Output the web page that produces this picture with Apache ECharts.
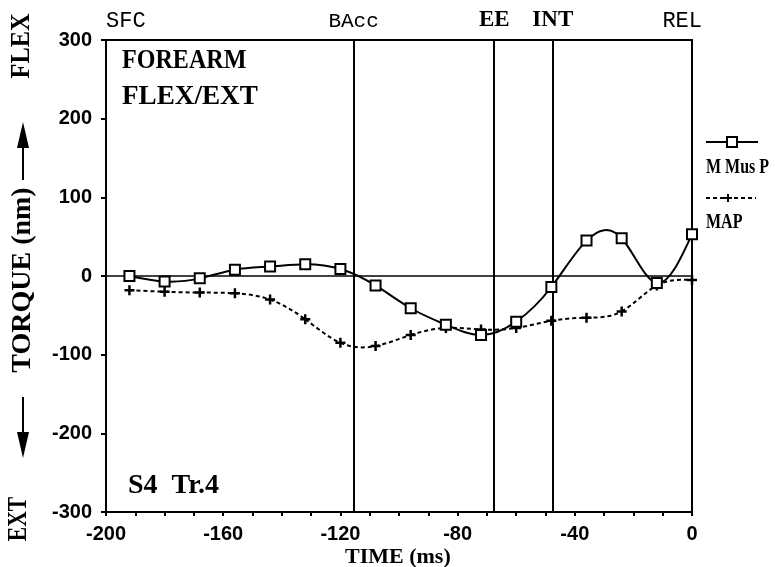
<!DOCTYPE html>
<html>
<head>
<meta charset="utf-8">
<script src="https://cdn.jsdelivr.net/npm/echarts@6/dist/echarts.min.js"></script>
<style>
html, body { margin: 0; padding: 0; background: #fff; }
#chart { width: 775px; height: 567px; }
</style>
</head>
<body>
<div id="chart"></div>
<script>
// forearm flex/ext torque, S4 Tr.4
var timeMs = [-192, -180, -168, -156, -144, -132, -120, -108, -96, -84, -72, -60, -48, -36, -24, -12, 0];
var mMusP = [0, -7, -3, 8, 12, 15, 9, -12, -41, -62, -75, -58, -14, 45, 48, -9, 53];
var mapVals = [-18, -20, -21, -22, -30, -55, -85, -89, -75, -66, -68, -66, -57, -53, -45, -12, -5];
var eventNames = ['SFC', 'BAcc', 'EE', 'INT', 'REL'];
var eventTimes = [-200, -115.5, -67.5, -47.5, 0];

var MONO = "'Liberation Mono', 'DejaVu Sans Mono', monospace";
var SERIF = "'Liberation Serif', serif";

var chart = echarts.init(document.getElementById('chart'));

// natural cubic spline slopes, the old plotting package drew curves like this
function splineSlopes(xs, ys) {
  var n = xs.length, h = [], i;
  for (i = 0; i < n - 1; i++) h.push(xs[i + 1] - xs[i]);
  var a = [], b = [], c = [], d = [];
  for (i = 0; i < n; i++) {
    if (i === 0 || i === n - 1) { a.push(0); b.push(1); c.push(0); d.push(0); continue; }
    a.push(h[i - 1]);
    b.push(2 * (h[i - 1] + h[i]));
    c.push(h[i]);
    d.push(6 * ((ys[i + 1] - ys[i]) / h[i] - (ys[i] - ys[i - 1]) / h[i - 1]));
  }
  for (i = 1; i < n; i++) {
    var w = a[i] / b[i - 1];
    b[i] -= w * c[i - 1];
    d[i] -= w * d[i - 1];
  }
  var M = new Array(n);
  M[n - 1] = d[n - 1] / b[n - 1];
  for (i = n - 2; i >= 0; i--) M[i] = (d[i] - c[i] * M[i + 1]) / b[i];
  var m = [];
  for (i = 0; i < n - 1; i++) m.push((ys[i + 1] - ys[i]) / h[i] - h[i] * (2 * M[i] + M[i + 1]) / 6);
  m.push((ys[n - 1] - ys[n - 2]) / h[n - 2] + h[n - 2] * (M[n - 2] + 2 * M[n - 1]) / 6);
  return m;
}

function curveSeries(name, vals, dash) {
  var slopes = splineSlopes(timeMs, vals);
  return {
    name: name,
    type: 'custom',
    data: timeMs.map(function (t, i) { return [t, vals[i]]; }),
    encode: { x: 0, y: 1 },
    z: 3,
    silent: true,
    renderItem: function (params, api) {
      var i = params.dataIndex;
      if (i >= timeMs.length - 1) return null;
      var x0 = timeMs[i], x1 = timeMs[i + 1], hh = (x1 - x0) / 3;
      var p0 = api.coord([x0, vals[i]]);
      var p1 = api.coord([x1, vals[i + 1]]);
      var c0 = api.coord([x0 + hh, vals[i] + slopes[i] * hh]);
      var c1 = api.coord([x1 - hh, vals[i + 1] - slopes[i + 1] * hh]);
      return {
        type: 'bezierCurve',
        shape: { x1: p0[0], y1: p0[1], x2: p1[0], y2: p1[1], cpx1: c0[0], cpy1: c0[1], cpx2: c1[0], cpy2: c1[1] },
        style: { stroke: '#000', lineWidth: 2, fill: null, lineDash: dash }
      };
    }
  };
}

// label look per event marker
var eventLabel = {
  SFC: { fontFamily: MONO, fontSize: 22, align: 'left' },
  BAcc: { fontFamily: MONO, fontSize: 21 },
  EE: { fontFamily: SERIF, fontWeight: 'bold', fontSize: 23 },
  INT: { fontFamily: SERIF, fontWeight: 'bold', fontSize: 23 },
  REL: { fontFamily: MONO, fontSize: 22, align: 'right', padding: [0, -10, 0, 0] }
};

var eventLines = eventTimes.map(function (t, i) {
  var n = eventNames[i];
  return {
    name: n,
    xAxis: t,
    label: Object.assign({
      show: true, position: 'end', formatter: '{b}', color: '#000', distance: 8
    }, eventLabel[n])
  };
});

var plusPath = 'path://M3,0H5V3H8V5H5V8H3V5H0V3H3Z';
var serifBold = { fontFamily: SERIF, fontWeight: 'bold', fill: '#000' };

var option = {
  backgroundColor: '#fff',
  animation: false,
  grid: {
    left: 106, right: 83, top: 40, bottom: 55,
    show: true, borderColor: '#000', borderWidth: 2, backgroundColor: 'transparent'
  },
  xAxis: {
    type: 'value',
    min: -200, max: 0, interval: 40,
    axisLine: { onZero: false, lineStyle: { color: '#000', width: 2 } },
    axisTick: { length: 4, lineStyle: { color: '#000', width: 2 } },
    minorTick: { show: true, splitNumber: 4, length: 4, lineStyle: { color: '#000', width: 2 } },
    splitLine: { show: false },
    axisLabel: {
      color: '#000', fontFamily: 'Liberation Sans', fontWeight: 'bold', fontSize: 20, margin: 12
    }
  },
  yAxis: {
    type: 'value',
    min: -300, max: 300, interval: 100,
    axisLine: { onZero: false, lineStyle: { color: '#000', width: 2 } },
    axisTick: { length: 5, lineStyle: { color: '#000', width: 2 } },
    splitLine: { show: false },
    axisLabel: {
      color: '#000', fontFamily: 'Liberation Sans', fontWeight: 'bold', fontSize: 20, margin: 14
    }
  },
  series: [
    curveSeries('M Mus P line', mMusP, null),
    curveSeries('MAP line', mapVals, [4, 3]),
    {
      name: 'M Mus P',
      type: 'scatter',
      data: timeMs.map(function (t, i) { return [t, mMusP[i]]; }),
      symbol: 'rect',
      symbolSize: 10,
      itemStyle: { color: '#fff', borderColor: '#000', borderWidth: 2, opacity: 1 },
      z: 6,
      markLine: {
        silent: true,
        symbol: 'none',
        lineStyle: { color: '#000', width: 2, type: 'solid' },
        data: eventLines
      }
    },
    {
      name: 'MAP',
      type: 'scatter',
      data: timeMs.map(function (t, i) { return [t, mapVals[i]]; }),
      symbol: plusPath,
      symbolSize: 10,
      itemStyle: { color: '#000', opacity: 1 },
      z: 5,
      markLine: {
        silent: true,
        symbol: 'none',
        label: { show: false },
        lineStyle: { color: '#000', width: 1.5, type: 'solid' },
        data: [{ yAxis: 0 }]
      }
    }
  ],
  graphic: [
    // panel titles
    { type: 'text', x: 122, y: 47, scaleX: 0.86, style: Object.assign({ text: 'FOREARM', fontSize: 28 }, serifBold) },
    { type: 'text', x: 122, y: 83, scaleX: 0.97, style: Object.assign({ text: 'FLEX/EXT', fontSize: 28 }, serifBold) },
    { type: 'text', x: 128, y: 472, style: { text: 'S4  Tr.4', fontFamily: SERIF, fontWeight: 'bold', fontSize: 28, fill: '#000' } },
    { type: 'text', x: 345, y: 546, style: { text: 'TIME (ms)', fontFamily: SERIF, fontWeight: 'bold', fontSize: 22, fill: '#000' } },
    // y axis title, rotated, with arrows
    { type: 'text', x: 22, y: 46, rotation: Math.PI / 2, scaleX: 0.87, style: Object.assign({ text: 'FLEX', fontSize: 28, align: 'center', verticalAlign: 'middle' }, serifBold) },
    { type: 'polygon', shape: { points: [[23, 122], [17, 148], [29, 148]] }, style: { fill: '#000' } },
    { type: 'line', shape: { x1: 23, y1: 146, x2: 23, y2: 180 }, style: { stroke: '#000', lineWidth: 2 } },
    { type: 'text', x: 23, y: 280, rotation: Math.PI / 2, style: Object.assign({ text: 'TORQUE (nm)', fontSize: 28, align: 'center', verticalAlign: 'middle' }, serifBold) },
    { type: 'line', shape: { x1: 23, y1: 397, x2: 23, y2: 434 }, style: { stroke: '#000', lineWidth: 2 } },
    { type: 'polygon', shape: { points: [[23, 458], [17, 432], [29, 432]] }, style: { fill: '#000' } },
    { type: 'text', x: 19, y: 519, rotation: Math.PI / 2, scaleX: 0.8, style: Object.assign({ text: 'EXT', fontSize: 27, align: 'center', verticalAlign: 'middle' }, serifBold) },
    // legend
    { type: 'line', shape: { x1: 706, y1: 142, x2: 758, y2: 142 }, style: { stroke: '#000', lineWidth: 2 } },
    { type: 'rect', shape: { x: 727, y: 137, width: 10, height: 10 }, style: { fill: '#fff', stroke: '#000', lineWidth: 2 } },
    { type: 'text', x: 706, y: 158, scaleX: 0.8, style: { text: 'M Mus P', fontFamily: SERIF, fontWeight: 'bold', fontSize: 20, fill: '#000' } },
    { type: 'line', shape: { x1: 706, y1: 198, x2: 756, y2: 198 }, style: { stroke: '#000', lineWidth: 2, lineDash: [4, 3] } },
    { type: 'polygon', shape: { points: [[727, 194], [729, 194], [729, 197], [732, 197], [732, 199], [729, 199], [729, 202], [727, 202], [727, 199], [724, 199], [724, 197], [727, 197]] }, style: { fill: '#000' } },
    { type: 'text', x: 706, y: 213, scaleX: 0.8, style: { text: 'MAP', fontFamily: SERIF, fontWeight: 'bold', fontSize: 20, fill: '#000' } }
  ]
};

chart.setOption(option);
window.addEventListener('resize', function () {
  chart && chart.resize();
});
</script>
</body>
</html>
